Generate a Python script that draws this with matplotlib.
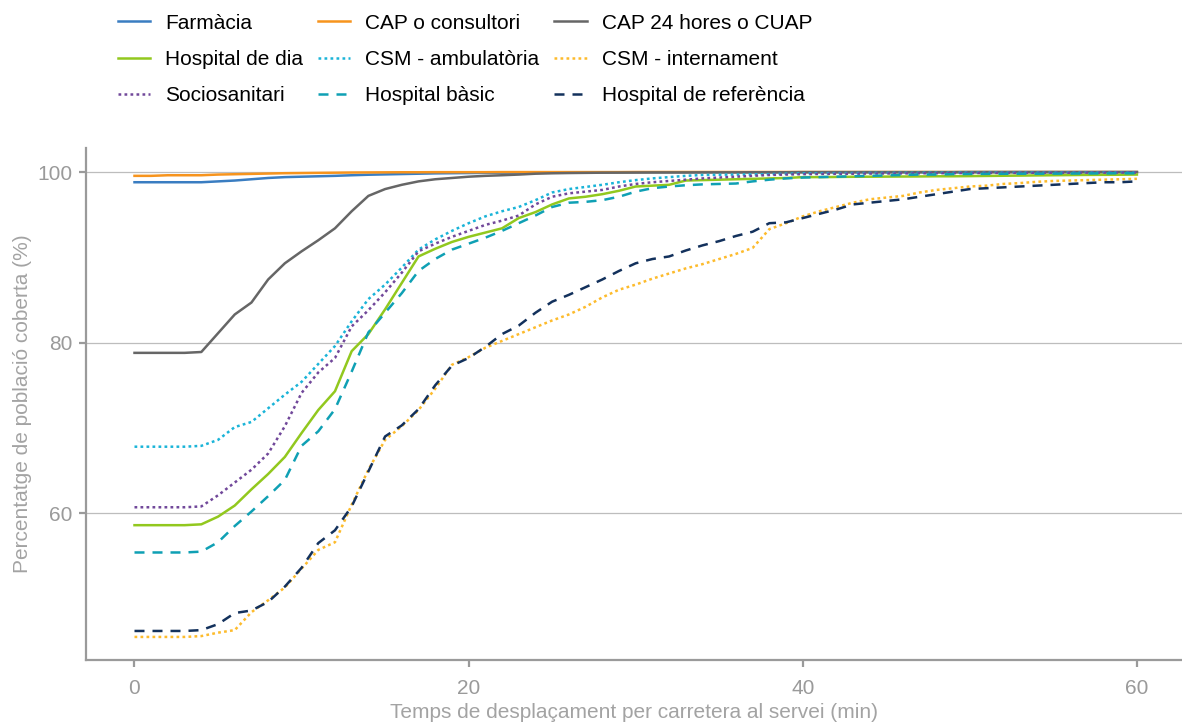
import matplotlib
matplotlib.use("Agg")
import matplotlib.pyplot as plt
import numpy as np

plt.rcParams['font.family'] = ['Liberation Sans', 'DejaVu Sans']

# temps de desplaçament (min)
minuts = list(range(61))

farmacia = [98.8, 98.8, 98.8, 98.8, 98.8, 98.9, 99.0, 99.15, 99.3, 99.4,
            99.45, 99.5, 99.55, 99.62, 99.68, 99.72, 99.76, 99.8, 99.84, 99.86,
            99.88, 99.9, 99.91, 99.92, 99.93, 99.94, 99.95, 99.95, 99.96, 99.96,
            99.97, 99.97, 99.97, 99.97, 99.97, 99.97, 99.97, 99.97, 99.97, 99.97,
            99.98, 99.98, 99.98, 99.98, 99.98, 99.98, 99.98, 99.98, 99.98, 99.98,
            99.99, 99.99, 99.99, 99.99, 99.99, 99.99, 99.99, 99.99, 99.99, 99.99,
            99.99]
cap = [99.55, 99.55, 99.62, 99.62, 99.62, 99.7, 99.74, 99.78, 99.82, 99.86,
       99.88, 99.9, 99.92, 99.94, 99.95, 99.96, 99.97, 99.97, 99.98, 99.98,
       99.98, 99.98, 99.99, 99.99, 99.99, 99.99, 99.99, 99.99, 99.99, 99.99,
       100, 100, 100, 100, 100, 100, 100, 100, 100, 100,
       100, 100, 100, 100, 100, 100, 100, 100, 100, 100,
       100, 100, 100, 100, 100, 100, 100, 100, 100, 100,
       100]
cap24 = [78.8, 78.8, 78.8, 78.8, 78.9, 81.1, 83.3, 84.7, 87.4, 89.3,
         90.7, 92.0, 93.4, 95.4, 97.2, 98.0, 98.5, 98.9, 99.15, 99.3,
         99.45, 99.55, 99.62, 99.7, 99.8, 99.85, 99.88, 99.9, 99.92, 99.93,
         99.94, 99.95, 99.95, 99.95, 99.96, 99.96, 99.96, 99.97, 99.97, 99.97,
         99.98, 99.98, 99.98, 99.98, 99.98, 99.98, 99.98, 99.98, 99.98, 99.98,
         99.99, 99.99, 99.99, 99.99, 99.99, 99.99, 99.99, 99.99, 99.99, 99.99,
         99.99]
hospital_dia = [58.6, 58.6, 58.6, 58.6, 58.7, 59.6, 60.9, 62.8, 64.6, 66.6,
                69.4, 72.1, 74.3, 79.0, 81.0, 83.9, 87.0, 90.1, 91.0, 91.8,
                92.4, 92.9, 93.4, 94.6, 95.3, 96.2, 96.9, 97.1, 97.4, 97.8,
                98.3, 98.4, 98.5, 99.0, 99.05, 99.1, 99.15, 99.2, 99.25, 99.3,
                99.4, 99.4, 99.42, 99.44, 99.45, 99.46, 99.47, 99.48, 99.5, 99.5,
                99.52, 99.54, 99.56, 99.58, 99.6, 99.62, 99.64, 99.66, 99.67, 99.68,
                99.7]
csm_amb = [67.8, 67.8, 67.8, 67.8, 67.9, 68.6, 70.1, 70.7, 72.3, 73.9,
           75.4, 77.5, 79.6, 82.5, 85.1, 86.8, 88.8, 90.9, 92.1, 93.1,
           94.0, 94.8, 95.4, 95.9, 96.7, 97.6, 98.0, 98.25, 98.5, 98.8,
           99.05, 99.25, 99.4, 99.55, 99.65, 99.68, 99.7, 99.72, 99.75, 99.8,
           99.85, 99.86, 99.87, 99.88, 99.89, 99.9, 99.9, 99.91, 99.92, 99.92,
           99.93, 99.93, 99.94, 99.94, 99.95, 99.95, 99.96, 99.96, 99.97, 99.97,
           99.97]
csm_int = [45.5, 45.5, 45.5, 45.5, 45.6, 46.0, 46.3, 48.4, 49.8, 51.3,
           53.5, 55.7, 56.6, 61.0, 65.1, 68.6, 70.2, 72.1, 74.6, 77.4,
           78.3, 79.4, 80.2, 81.0, 81.8, 82.6, 83.3, 84.2, 85.3, 86.2,
           86.8, 87.5, 88.1, 88.7, 89.2, 89.8, 90.4, 91.1, 93.3, 94.0,
           94.8, 95.4, 95.9, 96.4, 96.8, 97.0, 97.2, 97.6, 97.9, 98.1,
           98.3, 98.4, 98.6, 98.7, 98.85, 98.95, 99.0, 99.05, 99.1, 99.15,
           99.2]
sociosanitari = [60.7, 60.7, 60.7, 60.7, 60.8, 62.1, 63.6, 65.1, 67.0, 70.2,
                 74.1, 76.5, 78.2, 81.9, 83.8, 85.9, 88.2, 90.7, 91.6, 92.4,
                 93.1, 93.8, 94.3, 94.9, 96.2, 97.1, 97.5, 97.7, 97.9, 98.3,
                 98.6, 98.8, 98.95, 99.1, 99.25, 99.35, 99.45, 99.55, 99.65, 99.7,
                 99.75, 99.77, 99.79, 99.8, 99.82, 99.83, 99.84, 99.85, 99.86, 99.87,
                 99.88, 99.89, 99.9, 99.9, 99.91, 99.92, 99.92, 99.93, 99.93, 99.94,
                 99.94]
hospital_basic = [55.4, 55.4, 55.4, 55.4, 55.5, 56.6, 58.5, 60.2, 62.0, 63.9,
                  67.9, 69.6, 72.2, 76.6, 81.2, 83.5, 85.8, 88.4, 89.8, 90.9,
                  91.6, 92.3, 93.1, 94.0, 94.9, 95.9, 96.4, 96.5, 96.7, 97.1,
                  97.7, 98.1, 98.3, 98.45, 98.55, 98.6, 98.65, 98.9, 99.1, 99.25,
                  99.35, 99.4, 99.45, 99.5, 99.55, 99.6, 99.65, 99.7, 99.7, 99.75,
                  99.77, 99.78, 99.79, 99.8, 99.8, 99.81, 99.82, 99.83, 99.84, 99.85,
                  99.85]
hospital_ref = [46.2, 46.2, 46.2, 46.2, 46.3, 47.0, 48.3, 48.6, 49.6, 51.4,
                53.6, 56.5, 58.0, 60.8, 64.9, 69.0, 70.3, 72.2, 75.0, 77.3,
                78.2, 79.5, 81.0, 82.0, 83.5, 84.8, 85.6, 86.5, 87.4, 88.4,
                89.3, 89.8, 90.1, 90.8, 91.4, 91.9, 92.5, 93.0, 94.0, 94.1,
                94.6, 95.1, 95.6, 96.2, 96.4, 96.6, 96.8, 97.1, 97.4, 97.7,
                98.0, 98.1, 98.2, 98.3, 98.4, 98.5, 98.6, 98.7, 98.8, 98.8,
                98.9]

# (etiqueta, dades, color, estil)
series = [
    ("Farmàcia", farmacia, "#3a7dc1", "solid"),
    ("CAP o consultori", cap, "#f7941d", "solid"),
    ("CAP 24 hores o CUAP", cap24, "#666666", "solid"),
    ("Hospital de dia", hospital_dia, "#92c81e", "solid"),
    ("CSM - ambulatòria", csm_amb, "#1ab4d8", "dotted"),
    ("CSM - internament", csm_int, "#fdbb2c", "dotted"),
    ("Sociosanitari", sociosanitari, "#71489a", "dotted"),
    ("Hospital bàsic", hospital_basic, "#0fa0b4", "dashed"),
    ("Hospital de referència", hospital_ref, "#13315c", "dashed"),
]

fig = plt.figure(figsize=(11.82, 7.25), dpi=100)
ax = fig.add_axes([0.0728, 0.0897, 0.9272, 0.706])

handles = {}
for label, vals, col, style in series:
    ln, = ax.plot(minuts, vals, color=col, lw=1.8, label=label)
    if style == "dotted":
        ln.set_dashes((1.1, 1.3))
    elif style == "dashed":
        ln.set_dashes((4, 3.2))
    handles[label] = ln

ax.set_xlim(-2.9, 62.7)
ax.set_ylim(42.8, 102.8)
ax.set_xticks([0, 20, 40, 60])
ax.set_yticks([60, 80, 100])
ax.yaxis.grid(True, color="#bdbdbd", lw=0.9)
ax.set_axisbelow(True)

for s in ["top", "right"]:
    ax.spines[s].set_visible(False)
for s in ["left", "bottom"]:
    ax.spines[s].set_color("#9a9a9a")
    ax.spines[s].set_linewidth(1.6)
ax.tick_params(colors="#9a9a9a", labelcolor="#9a9a9a", labelsize=15,
               length=5, width=1.6)
ax.tick_params(axis="x", pad=8.5)
ax.tick_params(axis="y", pad=4.5)

ax.set_xlabel("Temps de desplaçament per carretera al servei (min)",
              fontsize=15, color="#a3a3a3", labelpad=4)
ax.set_ylabel("Percentatge de població coberta (%)",
              fontsize=15, color="#a3a3a3", labelpad=4)

# ordre per columnes perquè la llegenda es llegeixi per files
order = ["Farmàcia", "Hospital de dia", "Sociosanitari",
         "CAP o consultori", "CSM - ambulatòria", "Hospital bàsic",
         "CAP 24 hores o CUAP", "CSM - internament", "Hospital de referència"]
fig.legend([handles[k] for k in order], order, ncol=3, frameon=False,
           loc="upper left", bbox_to_anchor=(0.0995, 0.981), fontsize=15,
           handlelength=1.55, handletextpad=0.72, columnspacing=0.72,
           labelspacing=0.83, borderpad=0, borderaxespad=0)

fig.savefig("out.png", dpi=100)
